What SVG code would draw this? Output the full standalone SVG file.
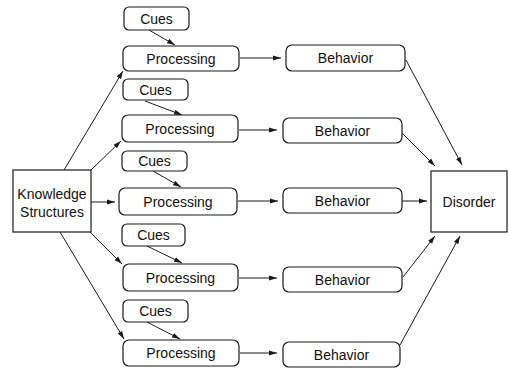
<svg xmlns="http://www.w3.org/2000/svg" width="509" height="368" viewBox="0 0 509 368">
<defs>
<style>
.box{fill:#fff;stroke:#1a1a1a;stroke-width:1.2}
.t{font-family:"Liberation Sans",Arial,sans-serif;font-size:14px;fill:#111;text-anchor:middle}
.c{fill:none;stroke:#1a1a1a;stroke-width:1;marker-end:url(#ah)}
</style>
<marker id="ah" viewBox="0 0 8 6" refX="8" refY="3" markerWidth="8" markerHeight="6" markerUnits="userSpaceOnUse" orient="auto">
<path d="M0,0.5 L8,3 L0,5.5 Z" fill="#1a1a1a"/>
</marker>
</defs>
<rect width="509" height="368" fill="#fff"/>
<g id="connectors">
<line class="c" x1="64" y1="170" x2="123" y2="71"/>
<line class="c" x1="91" y1="170" x2="121" y2="141"/>
<line class="c" x1="91" y1="202" x2="115" y2="202"/>
<line class="c" x1="90" y1="232" x2="122" y2="264"/>
<line class="c" x1="60" y1="232" x2="124" y2="339"/>
<line class="c" x1="149" y1="30" x2="175" y2="45"/>
<line class="c" x1="145" y1="101" x2="182" y2="115"/>
<line class="c" x1="153" y1="171" x2="181" y2="187"/>
<line class="c" x1="147" y1="246" x2="182" y2="263"/>
<line class="c" x1="147" y1="322" x2="180" y2="339"/>
<line class="c" x1="240" y1="58" x2="281" y2="58"/>
<line class="c" x1="239" y1="130" x2="277" y2="130"/>
<line class="c" x1="238" y1="201" x2="278" y2="201"/>
<line class="c" x1="239" y1="278" x2="277" y2="278"/>
<line class="c" x1="240" y1="353" x2="277" y2="353"/>
<line class="c" x1="406" y1="60" x2="462" y2="165"/>
<line class="c" x1="402" y1="133" x2="435" y2="166"/>
<line class="c" x1="402" y1="201" x2="427" y2="201"/>
<line class="c" x1="403" y1="277" x2="435" y2="236"/>
<line class="c" x1="400" y1="345" x2="460" y2="236"/>
</g>
<g id="knowledge"><rect class="box" x="13" y="170" width="78" height="62"/><text class="t" x="52" y="199">Knowledge</text><text class="t" x="52" y="217">Structures</text></g>
<g id="disorder"><rect class="box" x="431" y="171" width="76" height="61"/><text class="t" x="469" y="207">Disorder</text></g>
<g id="cues1"><rect class="box" x="124" y="7" width="65" height="23" rx="5"/><text class="t" x="156.5" y="24">Cues</text></g>
<g id="cues2"><rect class="box" x="123" y="79" width="65" height="21" rx="5"/><text class="t" x="155.5" y="95">Cues</text></g>
<g id="cues3"><rect class="box" x="122" y="151" width="65" height="20" rx="5"/><text class="t" x="154.5" y="166">Cues</text></g>
<g id="cues4"><rect class="box" x="122" y="224" width="63" height="22" rx="5"/><text class="t" x="153.5" y="240">Cues</text></g>
<g id="cues5"><rect class="box" x="123" y="300" width="65" height="22" rx="5"/><text class="t" x="155.5" y="316">Cues</text></g>
<g id="processing1"><rect class="box" x="123" y="46" width="116" height="25" rx="6"/><text class="t" x="181" y="63.5">Processing</text></g>
<g id="processing2"><rect class="box" x="122" y="115" width="116" height="27" rx="6"/><text class="t" x="180" y="133.5">Processing</text></g>
<g id="processing3"><rect class="box" x="119" y="188" width="118" height="27" rx="6"/><text class="t" x="178" y="206.5">Processing</text></g>
<g id="processing4"><rect class="box" x="123" y="264" width="115" height="27" rx="6"/><text class="t" x="180.5" y="282.5">Processing</text></g>
<g id="processing5"><rect class="box" x="123" y="340" width="116" height="26" rx="6"/><text class="t" x="181" y="358">Processing</text></g>
<g id="behavior1"><rect class="box" x="286" y="45" width="119" height="26" rx="6"/><text class="t" x="345.5" y="63">Behavior</text></g>
<g id="behavior2"><rect class="box" x="283" y="118" width="119" height="25" rx="6"/><text class="t" x="342.5" y="135.5">Behavior</text></g>
<g id="behavior3"><rect class="box" x="283" y="188" width="119" height="25" rx="6"/><text class="t" x="342.5" y="205.5">Behavior</text></g>
<g id="behavior4"><rect class="box" x="283" y="267" width="119" height="25" rx="6"/><text class="t" x="342.5" y="284.5">Behavior</text></g>
<g id="behavior5"><rect class="box" x="283" y="342" width="117" height="25" rx="6"/><text class="t" x="341.5" y="359.5">Behavior</text></g>
</svg>
